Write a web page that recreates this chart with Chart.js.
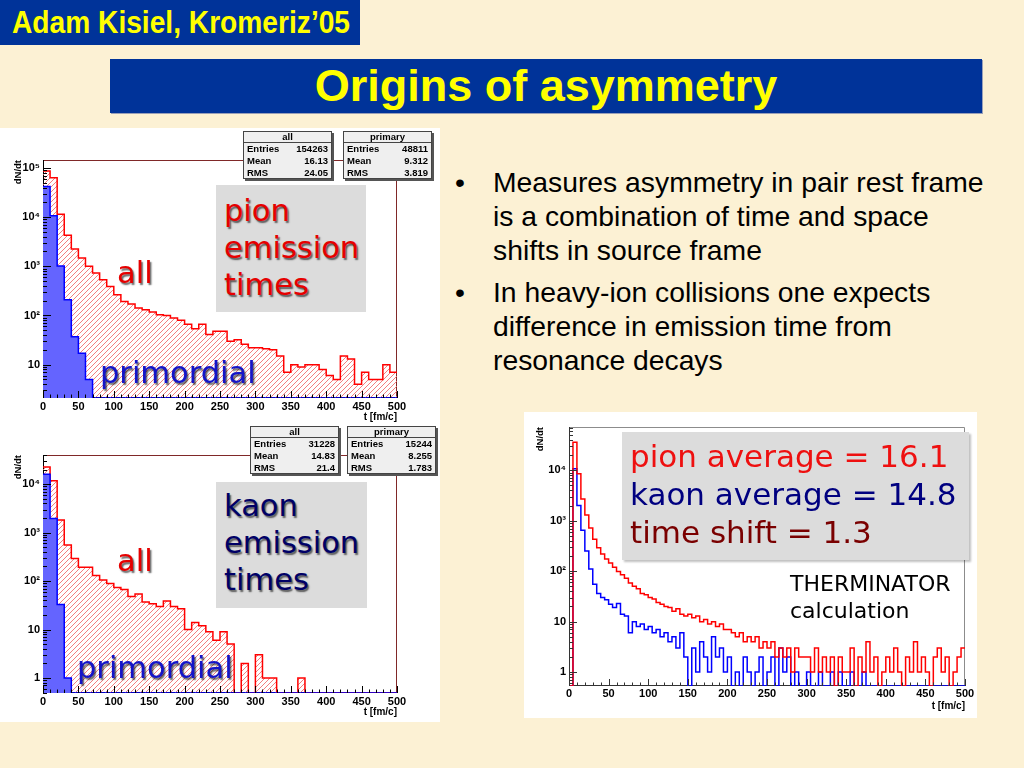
<!DOCTYPE html>
<html lang="en">
<head>
<meta charset="UTF-8" />
<title>Origins of asymmetry</title>
<script src="https://cdn.jsdelivr.net/npm/chart.js@4.4.1/dist/chart.umd.min.js"></script>
<style>
    body {
        margin: 0;
        width: 1024px;
        height: 768px;
        position: relative;
        overflow: hidden;
        background: #fcf1d4;
        font-family: "Liberation Sans", Arial, sans-serif;
    }
    .abs { position: absolute; }
    #author {
        left: 0; top: 0; width: 360px; height: 45px;
        background: #003399; color: #ffff00;
        font-weight: bold; font-size: 32px; line-height: 45px;
        white-space: nowrap;
    }
    #author span { position: absolute; left: 181px; top: 0; transform: translateX(-50%) scaleX(0.88); }
    #title {
        left: 110px; top: 59px; width: 872px; height: 54px;
        background: #003399; color: #ffff00;
        font-weight: bold; font-size: 45px; line-height: 54px; text-align: center;
        box-shadow: 1px 1px 0 #9aa0b8;
    }
    #bullets { left: 455px; top: 165px; font-size: 28.3px; line-height: 34px; color: #000; }
    #bullets .item { position: relative; padding-left: 38px; white-space: nowrap; }
    #bullets .dot { position: absolute; left: 0; top: 0; }
    .panel { background: #fff; }
    .wrap { position: absolute; }
    .gray { background: #dcdcdc; }
    .big {
        font-family: "DejaVu Sans", Verdana, sans-serif; white-space: nowrap;
        text-shadow: 1.5px 1.5px 1.5px rgba(0, 0, 0, 0.6);
    }
    .stats {
        position: absolute; width: 87px; height: 46px;
        background: #efefef; border: 1px solid #444;
        box-shadow: 2px 2px 0 #555;
        font-weight: bold; font-size: 9.5px; color: #000;
    }
    .stats .hd { height: 10px; line-height: 10px; text-align: center; border-bottom: 1px solid #444; }
    .stats .row { display: flex; justify-content: space-between; padding: 0 3px; height: 12px; line-height: 12px; }
</style>
</head>
<body>
<div id="author" class="abs"><span>Adam Kisiel, Kromeriz’05</span></div>
<div id="title" class="abs">Origins of asymmetry</div>

<div id="bullets" class="abs">
    <div class="item"><span class="dot">•</span>Measures asymmetry in pair rest frame<br>is a combination of time and space<br>shifts in source frame</div>
    <div class="item" style="margin-top:8px"><span class="dot">•</span>In heavy-ion collisions one expects<br>difference in emission time from<br>resonance decays</div>
</div>

<div class="abs panel" style="left:0; top:128px; width:440px; height:594px;"></div>
<div class="abs panel" style="left:524px; top:412px; width:453px; height:306px;"></div>

<div class="wrap" style="left:0; top:128px; width:440px; height:295px;"><canvas id="pionChart"></canvas></div>
<div class="wrap" style="left:0; top:423px; width:440px; height:295px;"><canvas id="kaonChart"></canvas></div>
<div class="wrap" style="left:524px; top:412px; width:453px; height:306px;"><canvas id="thermChart"></canvas></div>

<!-- pion panel overlays -->
<div class="stats" style="left:243px; top:131px;">
    <div class="hd">all</div>
    <div class="row"><span>Entries</span><span>154263</span></div>
    <div class="row"><span>Mean</span><span>16.13</span></div>
    <div class="row"><span>RMS</span><span>24.05</span></div>
</div>
<div class="stats" style="left:343px; top:131px;">
    <div class="hd">primary</div>
    <div class="row"><span>Entries</span><span>48811</span></div>
    <div class="row"><span>Mean</span><span>9.312</span></div>
    <div class="row"><span>RMS</span><span>3.819</span></div>
</div>
<div class="abs gray" style="left:216px; top:185px; width:150px; height:127px;"></div>
<div class="abs big" style="left:224px; top:192px; font-size:30.5px; line-height:37px; color:#e60000;">pion<br>emission<br>times</div>
<div class="abs big" style="left:117px; top:254px; font-size:30.5px; line-height:37px; color:#e60000;">all</div>
<div class="abs big" style="left:100px; top:354px; font-size:30.5px; line-height:37px; color:#1414c8;">primordial</div>

<!-- kaon panel overlays -->
<div class="stats" style="left:250px; top:426px;">
    <div class="hd">all</div>
    <div class="row"><span>Entries</span><span>31228</span></div>
    <div class="row"><span>Mean</span><span>14.83</span></div>
    <div class="row"><span>RMS</span><span>21.4</span></div>
</div>
<div class="stats" style="left:347px; top:426px;">
    <div class="hd">primary</div>
    <div class="row"><span>Entries</span><span>15244</span></div>
    <div class="row"><span>Mean</span><span>8.255</span></div>
    <div class="row"><span>RMS</span><span>1.783</span></div>
</div>
<div class="abs gray" style="left:216px; top:482px; width:151px; height:126px;"></div>
<div class="abs big" style="left:224px; top:487px; font-size:30.5px; line-height:37px; color:#000066;">kaon<br>emission<br>times</div>
<div class="abs big" style="left:117px; top:542px; font-size:30.5px; line-height:37px; color:#e60000;">all</div>
<div class="abs big" style="left:77px; top:649px; font-size:30.5px; line-height:37px; color:#1414c8;">primordial</div>

<!-- THERMINATOR panel overlays -->
<div class="abs gray" style="left:622px; top:432px; width:347px; height:128px; box-shadow:2px 2px 2px rgba(0,0,0,0.25);"></div>
<div class="abs" style="left:630px; top:437px; font-family:'DejaVu Sans', Verdana, sans-serif; font-size:31px; line-height:38px; white-space:nowrap;">
    <div style="color:#ee1010;">pion average = 16.1</div>
    <div style="color:#000080;">kaon average = 14.8</div>
    <div style="color:#7a0000;">time shift = 1.3</div>
</div>
<div class="abs" style="left:790px; top:570px; font-family:'DejaVu Sans', Verdana, sans-serif; font-size:22px; line-height:27px; color:#000; white-space:nowrap;">THERMINATOR<br>calculation</div>

<script>
    // emission time histograms, 10 fm/c bins from 0 to 500
    const binWidth = 10;
    const pionAll = [
        87000, 63000, 11500, 4300, 2250, 1480, 1000, 730, 535, 390,
        265, 193, 172, 142, 131, 118, 104, 100, 89, 80,
        66, 54, 66, 41, 48, 48, 30, 32, 26, 22,
        22, 21, 20, 15, 7, 10, 9, 10, 10, 8,
        6, 5, 15, 13, 4, 7, 5, 5, 10, 7
    ];
    const pionPrimary = [
        42000, 10700, 1020, 210, 37, 17, 5, 0, 0, 0,
        0, 0, 0, 0, 0, 0, 0, 0, 0, 0,
        0, 0, 0, 0, 0, 0, 0, 0, 0, 0,
        0, 0, 0, 0, 0, 0, 0, 0, 0, 0,
        0, 0, 0, 0, 0, 0, 0, 0, 0, 0
    ];
    const kaonAll = [
        22700, 11700, 1820, 555, 294, 192, 192, 131, 105, 89,
        74, 67, 48, 54, 37, 34, 30, 39, 30, 27,
        10, 14, 12, 9, 6, 9, 5, 0, 2, 0,
        3, 1, 1, 0, 0, 0, 1, 0, 0, 0,
        0, 0, 0, 0, 0, 0, 0, 0, 0, 0
    ];
    const kaonPrimary = [
        16000, 1960, 33, 1, 0, 0, 0, 0, 0, 0,
        0, 0, 0, 0, 0, 0, 0, 0, 0, 0,
        0, 0, 0, 0, 0, 0, 0, 0, 0, 0,
        0, 0, 0, 0, 0, 0, 0, 0, 0, 0,
        0, 0, 0, 0, 0, 0, 0, 0, 0, 0
    ];

    // THERMINATOR comparison, 5 fm/c bins from 0 to 500
    const fineBinWidth = 5;
    const pionTherm = [
        0, 36000, 8500, 2700, 1300, 720, 430, 290, 220, 175,
        145, 120, 98, 85, 72, 58, 50, 45, 36, 34,
        30, 28, 24, 22, 20, 19, 16, 18, 14, 13,
        14, 12, 13, 10, 11, 9, 10, 8, 9, 7,
        7, 6, 5, 6, 4, 5, 4, 5, 3, 4,
        3, 4, 2, 3, 2, 3, 1, 3, 2, 2,
        2, 1, 3, 1, 2, 1, 2, 0, 2, 1,
        1, 3, 0, 2, 1, 4, 1, 2, 0, 1,
        2, 1, 3, 1, 0, 2, 1, 4, 1, 2,
        1, 0, 2, 3, 1, 2, 0, 1, 2, 3
    ];
    const kaonTherm = [
        0, 10700, 2000, 650, 250, 110, 55, 36, 30, 27,
        22, 19, 23, 14, 13, 6, 10, 8, 9, 7,
        8, 6, 7, 5, 6, 4, 5, 3, 6, 2,
        0, 3, 1, 4, 2, 1, 5, 2, 3, 1,
        2, 0, 1, 0, 2, 1, 0, 1, 2, 0,
        1, 2, 0, 3, 1, 2, 0, 1, 0, 0,
        1, 0, 0, 1, 0, 0, 1, 0, 1, 0,
        0, 1, 0, 0, 1, 0, 0, 0, 0, 0,
        0, 0, 0, 0, 0, 0, 0, 0, 0, 0,
        0, 0, 0, 0, 0, 0, 0, 0, 0, 0
    ];

    const yTickValues = [1, 10, 100, 1000, 10000, 100000];
    const yTickLabels = ['1', '10', '10²', '10³', '10⁴', '10⁵'];

    // histogram as step points, empty bins sit on the axis floor
    function histPoints(values, width, floor) {
        const pts = values.map((v, i) => ({ x: i * width, y: v > 0 ? v : floor }));
        pts.push({ x: values.length * width, y: pts[pts.length - 1].y });
        return pts;
    }

    function hatch(color) {
        const c = document.createElement('canvas');
        c.width = c.height = 5;
        const g = c.getContext('2d');
        g.strokeStyle = color;
        g.lineWidth = 0.9;
        g.beginPath();
        g.moveTo(0, 5); g.lineTo(5, 0);
        g.moveTo(-1, 1); g.lineTo(1, -1);
        g.moveTo(4, 6); g.lineTo(6, 4);
        g.stroke();
        return g.createPattern(c, 'repeat');
    }

    // ROOT style frame with ticks pointing inside
    const rootFrame = {
        id: 'rootFrame',
        beforeDatasetsDraw(chart, args, opts) {
            const { ctx, chartArea: a } = chart;
            ctx.save();
            ctx.lineWidth = 1;
            ctx.strokeStyle = opts.edge;
            ctx.beginPath();
            ctx.moveTo(a.left, a.top + 0.5);
            ctx.lineTo(a.right - 0.5, a.top + 0.5);
            ctx.lineTo(a.right - 0.5, a.bottom);
            ctx.stroke();
            ctx.strokeStyle = opts.axis;
            ctx.beginPath();
            ctx.moveTo(a.left + 0.5, a.top);
            ctx.lineTo(a.left + 0.5, a.bottom - 0.5);
            ctx.lineTo(a.right, a.bottom - 0.5);
            ctx.stroke();
            ctx.restore();
        },
        afterDatasetsDraw(chart, args, opts) {
            const { ctx, chartArea: a, scales: { x, y } } = chart;
            ctx.save();
            ctx.lineWidth = 1;
            ctx.strokeStyle = opts.axis;
            ctx.beginPath();
            for (let t = x.min; t <= x.max; t += 10) {
                const px = Math.round(x.getPixelForValue(t)) + 0.5;
                const len = t % 50 === 0 ? 7 : 3.5;
                ctx.moveTo(px, a.bottom);
                ctx.lineTo(px, a.bottom - len);
            }
            const e0 = Math.floor(Math.log10(y.min)), e1 = Math.ceil(Math.log10(y.max));
            for (let e = e0; e <= e1; e++) {
                for (let m = 1; m <= 9; m++) {
                    const v = m * Math.pow(10, e);
                    if (v < y.min || v > y.max) continue;
                    const py = Math.round(y.getPixelForValue(v)) + 0.5;
                    const len = m === 1 ? 8 : 4;
                    ctx.moveTo(a.left, py);
                    ctx.lineTo(a.left + len, py);
                }
            }
            ctx.stroke();
            ctx.restore();
        }
    };

    const tickFont = { family: '"Liberation Sans", Arial, sans-serif', size: 11, weight: 'bold' };
    const titleFont = { family: '"Liberation Sans", Arial, sans-serif', size: 10, weight: 'bold' };

    function makeScales(o) {
        return {
            x: {
                type: 'linear', min: 0, max: 500,
                ticks: { stepSize: 50, padding: o.xPad, color: '#000', font: tickFont, maxRotation: 0, autoSkip: false },
                grid: { display: false, drawTicks: false },
                border: { display: false },
                title: { display: true, text: 't [fm/c]', align: 'end', color: '#000', font: titleFont, padding: { top: 0, bottom: 0 } },
                afterFit: s => { s.height = o.xHeight; }
            },
            y: {
                type: 'logarithmic', min: o.yMin, max: o.yMax,
                afterBuildTicks: s => {
                    s.ticks = yTickValues.filter(v => v >= s.min && v <= s.max).map(v => ({ value: v }));
                },
                ticks: { padding: 3, color: '#000', font: tickFont, callback: v => yTickLabels[yTickValues.indexOf(v)] },
                grid: { display: false, drawTicks: false },
                border: { display: false },
                title: { display: true, text: 'dN/dt', align: 'end', color: '#000', font: { ...titleFont, size: 9.5 }, padding: { top: o.yTitlePad, bottom: 0 } },
                afterFit: s => { s.width = o.yWidth; }
            }
        };
    }

    function baseOptions(o, frame) {
        return {
            responsive: true,
            maintainAspectRatio: false,
            animation: false,
            events: [],
            layout: { padding: o.padding },
            plugins: { legend: { display: false }, tooltip: { enabled: false }, rootFrame: frame },
            scales: makeScales(o)
        };
    }

    function emissionChart(id, all, primary, yMin, yMax) {
        const o = { yMin, yMax, xPad: 2, xHeight: 25, yWidth: 43, yTitlePad: 13,
                    padding: { left: 0, top: 32, right: 43, bottom: 0 } };
        const ctx = document.getElementById(id).getContext('2d');
        return new Chart(ctx, {
            type: 'line',
            data: {
                datasets: [
                    { label: 'primordial', data: histPoints(primary, binWidth, yMin), stepped: true,
                      borderColor: '#0000ff', borderWidth: 1.5, backgroundColor: '#6464ff', fill: 'start', pointRadius: 0 },
                    { label: 'all', data: histPoints(all, binWidth, yMin), stepped: true,
                      borderColor: '#ff0000', borderWidth: 1.5, backgroundColor: hatch('#f27070'), fill: 'start', pointRadius: 0 }
                ]
            },
            options: baseOptions(o, { edge: '#802828', axis: '#000' }),
            plugins: [rootFrame]
        });
    }

    emissionChart('pionChart', pionAll, pionPrimary, 2.1, 145000);
    emissionChart('kaonChart', kaonAll, kaonPrimary, 0.49, 40000);

    const thermOpts = { yMin: 0.53, yMax: 72000, xPad: 1, xHeight: 26, yWidth: 45, yTitlePad: 11,
                        padding: { left: 0, top: 15, right: 12, bottom: 6 } };
    new Chart(document.getElementById('thermChart').getContext('2d'), {
        type: 'line',
        data: {
            datasets: [
                { label: 'pion', data: histPoints(pionTherm, fineBinWidth, thermOpts.yMin), stepped: true,
                  borderColor: '#ff0000', borderWidth: 1.5, fill: false, pointRadius: 0 },
                { label: 'kaon', data: histPoints(kaonTherm, fineBinWidth, thermOpts.yMin), stepped: true,
                  borderColor: '#0000ff', borderWidth: 1.5, fill: false, pointRadius: 0 }
            ]
        },
        options: baseOptions(thermOpts, { edge: '#8c8c8c', axis: '#333' }),
        plugins: [rootFrame]
    });
</script>
</body>
</html>
